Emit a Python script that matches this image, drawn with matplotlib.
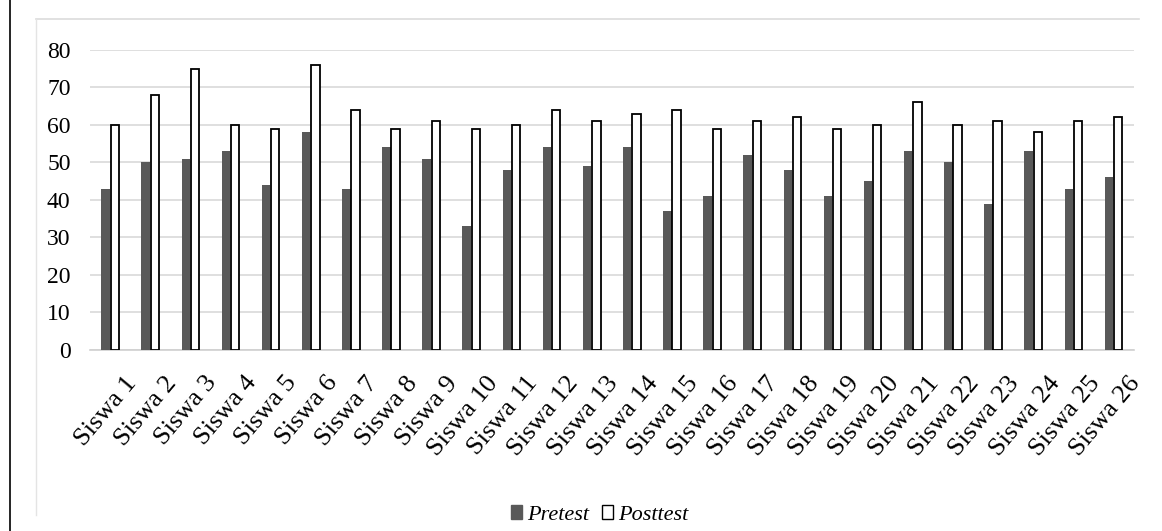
import numpy as np
import matplotlib.pyplot as plt
import matplotlib.transforms as mtransforms
from matplotlib.patches import Rectangle
from matplotlib.lines import Line2D

labels = ['Siswa %d' % i for i in range(1, 27)]
pretest = [43, 50, 51, 53, 44, 58, 43, 54, 51, 33, 48, 54, 49,
           54, 37, 41, 52, 48, 41, 45, 53, 50, 39, 53, 43, 46]
posttest = [60, 68, 75, 60, 59, 76, 64, 59, 61, 59, 60, 64, 61,
            63, 64, 59, 61, 62, 59, 60, 66, 60, 61, 58, 61, 62]

plt.rcParams['font.family'] = ['Liberation Serif', 'DejaVu Serif']

fig = plt.figure(figsize=(11.62, 5.31), dpi=100)
ax = fig.add_axes([0.0775, 0.341, 0.898, 0.565])

x = np.arange(len(labels))
w = 0.21
ax.bar(x - w / 2 - 0.01, pretest, w, color='#595959', label='Pretest', zorder=3)
ax.bar(x + w / 2 + 0.01, posttest, w, color='white', edgecolor='black',
       linewidth=1.3, label='Posttest', zorder=3)

ax.set_xlim(-0.5, len(labels) - 0.5)
ax.set_ylim(0, 80)
ax.set_yticks(range(0, 81, 10))
ax.yaxis.grid(True, color='#d9d9d9', linewidth=1.2, zorder=0)
for s in ['top', 'right', 'left']:
    ax.spines[s].set_visible(False)
ax.spines['bottom'].set_color('#d0d0d0')
ax.spines['bottom'].set_linewidth(1.2)
ax.tick_params(axis='y', length=0, labelsize=17, pad=14)
ax.tick_params(axis='x', length=0, labelsize=19, pad=16)
ax.set_xticks(x)
ax.set_xticklabels(labels, rotation=50, ha='right', rotation_mode='anchor')
shift = mtransforms.ScaledTranslation(14 / 100, 0, fig.dpi_scale_trans)
for t in ax.get_xticklabels():
    t.set_transform(t.get_transform() + shift)

handles = [Rectangle((0, 0), 1, 1, facecolor='#595959', edgecolor='#595959'),
           Rectangle((0, 0), 1, 1, facecolor='white', edgecolor='black')]
fig.legend(handles, ['Pretest', 'Posttest'], loc='center', bbox_to_anchor=(0.516, 0.03),
           ncol=2, frameon=False, prop={'style': 'italic', 'size': 16},
           handlelength=0.5, handleheight=0.6, handletextpad=0.2, columnspacing=0.6)

# light chart frame (top and left) and page line
fig.lines.append(Line2D([0.031, 0.98], [0.964, 0.964], transform=fig.transFigure,
                        color='#dcdcdc', linewidth=1.2))
fig.lines.append(Line2D([0.031, 0.031], [0.03, 0.964], transform=fig.transFigure,
                        color='#e4e4e4', linewidth=1.0))
fig.lines.append(Line2D([0.009, 0.009], [0, 1], transform=fig.transFigure,
                        color='black', linewidth=1.2))

fig.savefig('out.png', dpi=100)
